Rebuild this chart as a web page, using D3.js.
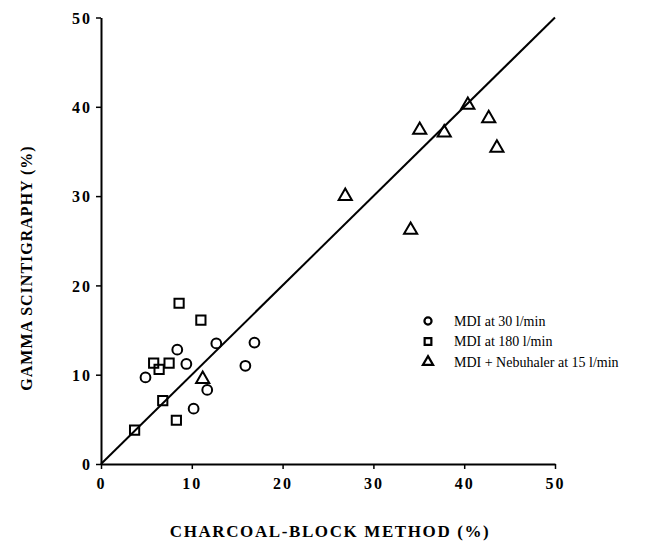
<!DOCTYPE html>
<html>
<head>
<meta charset="utf-8">
<script src="https://cdn.jsdelivr.net/npm/d3@7"></script>
<style>
  body { margin: 0; background: #fff; }
  text { font-family: "Liberation Serif", "Times New Roman", serif; fill: #000; }
</style>
</head>
<body>
<div id="chart"></div>
<script>
var width = 649;
var height = 548;

// values: [charcoal-block, gamma scintigraphy]
var mdi30 = [[12.7, 13.5], [16.9, 13.6], [8.4, 12.8], [9.4, 11.2], [15.9, 11.0], [4.9, 9.7], [11.7, 8.3], [10.2, 6.2]];
var mdi180 = [[8.6, 18.0], [11.0, 16.1], [5.8, 11.3], [7.5, 11.3], [6.4, 10.6], [6.8, 7.1], [8.3, 4.9], [3.7, 3.8]];
var nebuhaler = [[11.2, 9.5], [40.4, 40.2], [42.7, 38.7], [35.1, 37.4], [37.8, 37.1], [43.6, 35.4], [26.9, 30.0], [34.1, 26.2]];
var ticks = [0, 10, 20, 30, 40, 50];
var legendLabels = ["MDI at 30 l/min", "MDI at 180 l/min", "MDI + Nebuhaler at 15 l/min"];

var svg = d3.select("#chart")
  .append("svg")
  .attr("width", width)
  .attr("height", height);

var x = d3.scaleLinear().domain([0, 50]).range([101, 555]);
var y = d3.scaleLinear().domain([0, 50]).range([464, 17.5]);

// axes
var xAxis = d3.axisBottom(x).tickValues(ticks).tickSize(5).tickPadding(9).tickSizeOuter(0);
var yAxis = d3.axisLeft(y).tickValues(ticks).tickSize(5).tickPadding(4).tickSizeOuter(0);

var gx = svg.append("g")
  .attr("transform", "translate(0," + y(0) + ")")
  .call(xAxis);
var gy = svg.append("g")
  .attr("transform", "translate(" + x(0) + ",0)")
  .call(yAxis);

[gx, gy].forEach(function(g) {
  g.select(".domain").attr("stroke", "#000").attr("stroke-width", 2);
  g.selectAll(".tick line").attr("stroke", "#000").attr("stroke-width", 1.5);
  g.selectAll(".tick text")
    .style("font-family", "'Liberation Serif', serif")
    .style("font-weight", "bold")
    .style("font-size", "16px")
    .style("letter-spacing", "2px")
    .attr("fill", "#000");
});
gy.selectAll(".tick text").attr("dy", "0.35em");

// line of identity
svg.append("line")
  .attr("x1", x(0)).attr("y1", y(0))
  .attr("x2", x(50)).attr("y2", y(50))
  .attr("stroke", "#000")
  .attr("stroke-width", 2);

// markers
var sw = 2;
var circleSym = d3.symbol().type(d3.symbolCircle).size(75);
var squareSym = d3.symbol().type(d3.symbolSquare).size(85);
var triSym = d3.symbol().type(d3.symbolTriangle).size(75);

function drawSet(data, sym) {
  svg.append("g")
    .selectAll("path")
    .data(data)
    .enter()
    .append("path")
    .attr("d", sym)
    .attr("transform", function(d) { return "translate(" + x(d[0]) + "," + y(d[1]) + ")"; })
    .attr("fill", "none")
    .attr("stroke", "#000")
    .attr("stroke-width", sw);
}
drawSet(mdi30, circleSym);
drawSet(mdi180, squareSym);
drawSet(nebuhaler, triSym);

// legend
var legendSyms = [d3.symbol().type(d3.symbolCircle).size(40), d3.symbol().type(d3.symbolSquare).size(45), d3.symbol().type(d3.symbolTriangle).size(45)];
var legend = svg.append("g")
  .selectAll("g")
  .data(legendLabels)
  .enter()
  .append("g")
  .attr("transform", function(d, i) { return "translate(428," + (321 + i * 20.5) + ")"; });

legend.append("path")
  .attr("d", function(d, i) { return legendSyms[i](); })
  .attr("fill", "none")
  .attr("stroke", "#000")
  .attr("stroke-width", 2.2);

legend.append("text")
  .attr("x", 26)
  .attr("dy", "0.35em")
  .style("font-size", "14px")
  .text(function(d) { return d; });

// axis titles
svg.append("text")
  .attr("x", 330)
  .attr("y", 537)
  .attr("text-anchor", "middle")
  .style("font-weight", "bold")
  .style("font-size", "17px")
  .style("letter-spacing", "1.6px")
  .text("CHARCOAL-BLOCK METHOD (%)");

svg.append("text")
  .attr("transform", "translate(32,268) rotate(-90)")
  .attr("text-anchor", "middle")
  .style("font-weight", "bold")
  .style("font-size", "16px")
  .style("letter-spacing", "1px")
  .text("GAMMA SCINTIGRAPHY (%)");
</script>
</body>
</html>
